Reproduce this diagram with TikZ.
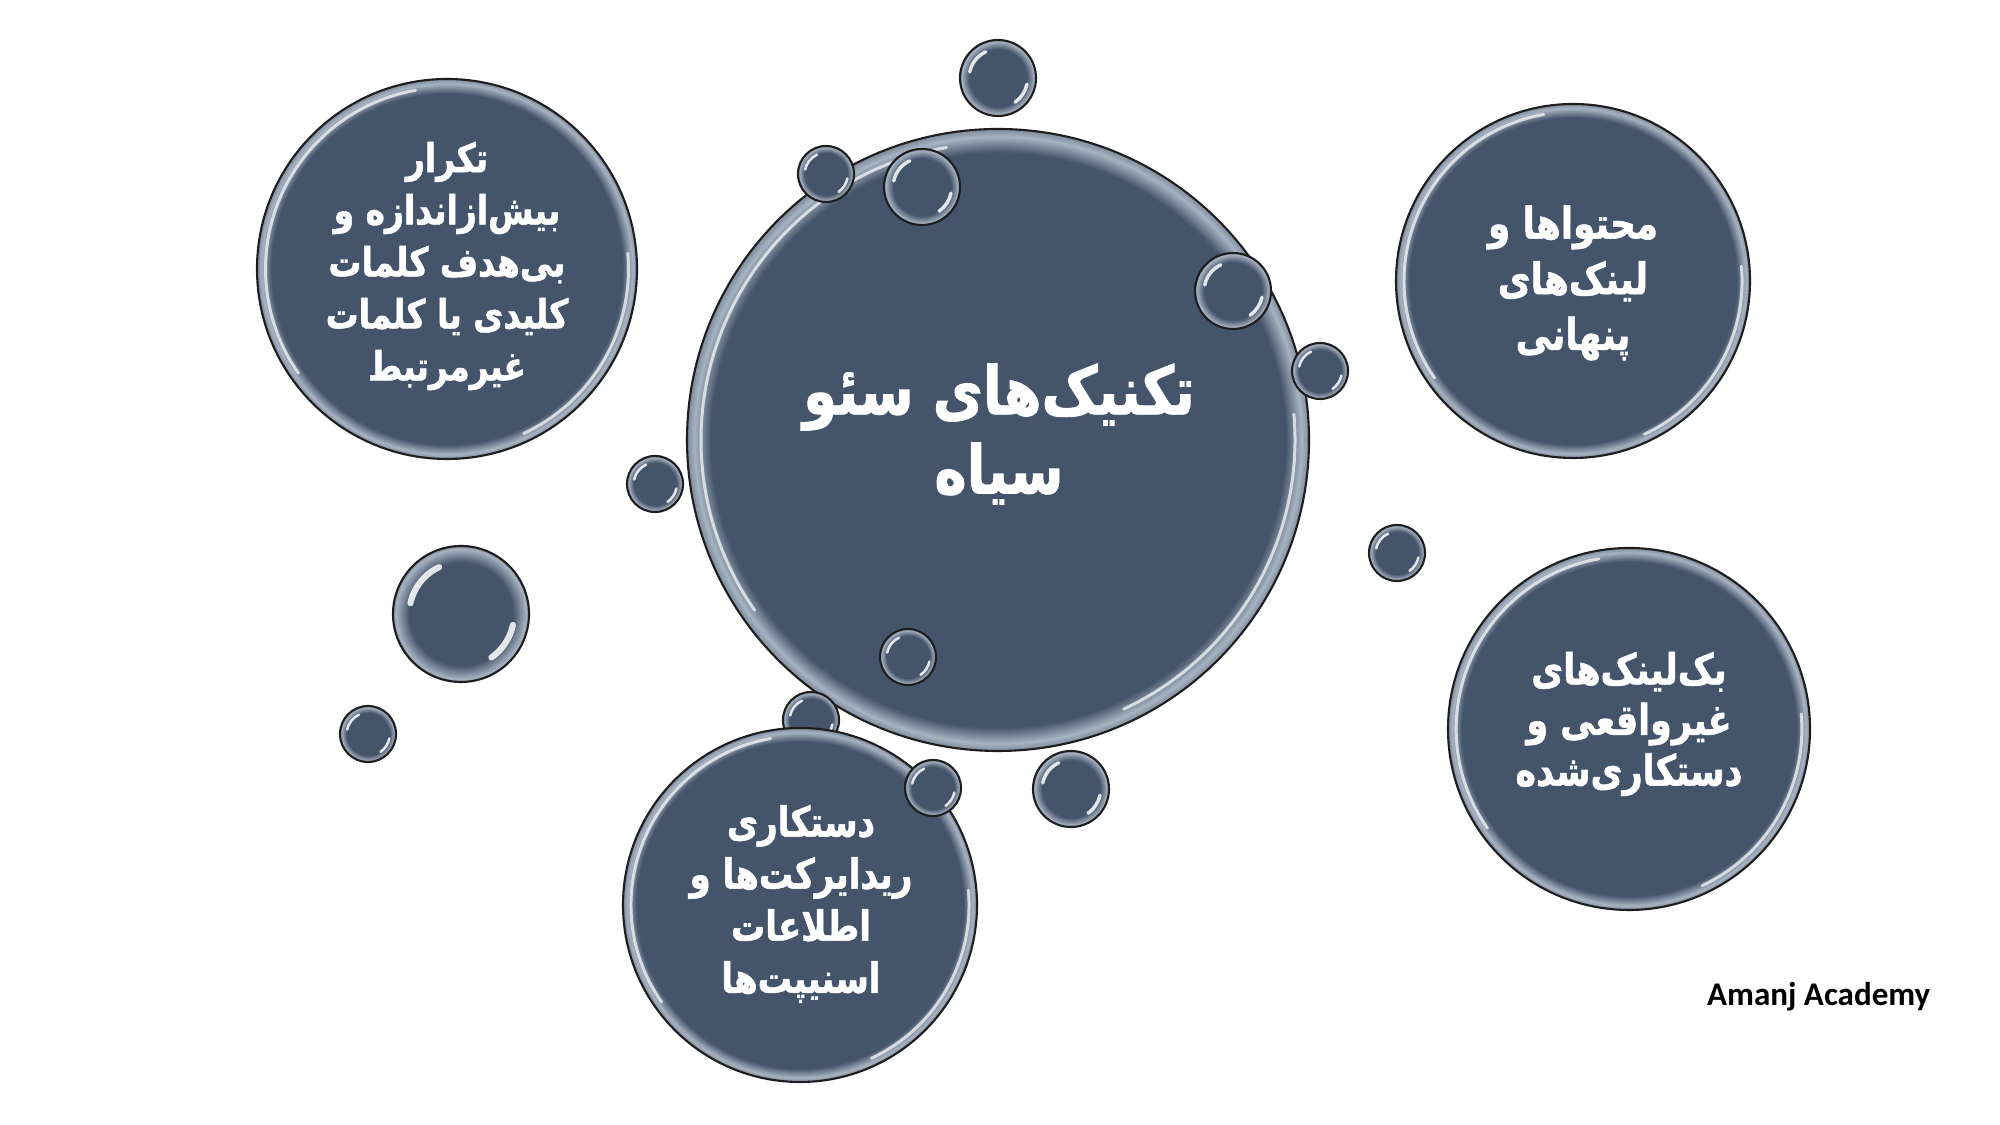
\documentclass[tikz,border=0pt]{standalone}
\usepackage{fontspec}
\TeXXeTstate=1
\newfontfamily\fa[Script=Arabic, FakeStretch=0.82, BoldFeatures={FakeBold=1.3}]{DejaVu Sans}
\newfontfamily\carl{Carlito}
\usetikzlibrary{calc}
\definecolor{bub}{HTML}{44546A}
\definecolor{rim}{HTML}{A7B3C2}
\definecolor{rimdark}{HTML}{7D8A9C}
\definecolor{edge}{HTML}{1E1E1E}
\pgfdeclareradialshading{bigshade}{\pgfpoint{0bp}{0bp}}{color(0bp)=(bub); color(23.1bp)=(bub); color(24.4bp)=(rim); color(25bp)=(rimdark); color(50bp)=(rimdark)}
\pgfdeclareradialshading{smallshade}{\pgfpoint{0bp}{0bp}}{color(0bp)=(bub); color(19bp)=(bub); color(24bp)=(rim); color(25bp)=(rimdark); color(50bp)=(rimdark)}
\tikzset{
  bigbubble/.style={circle, inner sep=0pt, draw=edge, line width=0.6pt, shade, shading=bigshade},
  smallbubble/.style={circle, inner sep=0pt, draw=edge, line width=0.6pt, shade, shading=smallshade},
  hlbig/.style={white, opacity=0.7, line width=0.85pt, line cap=round},
  hlsmall/.style={white, opacity=0.85, line cap=round},
  bubtext/.style={text=white, align=center, inner sep=0pt},
  brand/.style={anchor=east, inner sep=0pt, font=\carl\bfseries\fontsize{9.4}{11}\selectfont}
}
% big bubble: name, x, y, r
\newcommand\bigbub[4]{%
  \node[bigbubble, minimum size={2*#4*0.01cm}] (#1) at (#2,#3) {};
  \draw[hlbig] (#1.center) ++(100:{0.955*#4}) arc[start angle=100, end angle=215, radius={0.955*#4*0.01cm}];
  \draw[hlbig] (#1.center) ++(-65:{0.955*#4}) arc[start angle=-65, end angle=5, radius={0.955*#4*0.01cm}];
}
% small bubble: name, x, y, r
\newcommand\smallbub[4]{%
  \node[smallbubble, minimum size={2*#4*0.01cm}] (#1) at (#2,#3) {};
  \draw[hlsmall, line width={0.09*#4*0.01cm}] (#1.center) ++(115:{0.76*#4}) arc[start angle=115, end angle=168, radius={0.76*#4*0.01cm}];
  \draw[hlsmall, line width={0.09*#4*0.01cm}] (#1.center) ++(-12:{0.78*#4}) arc[start angle=-12, end angle=-55, radius={0.78*#4*0.01cm}];
}
\begin{document}
\begin{tikzpicture}[x=0.01cm, y=0.01cm]
\fill[white] (0,0) rectangle (2000,1125);
\useasboundingbox (0,0) rectangle (2000,1125);

\bigbub{main}{998}{685}{311}
\bigbub{tl}{447}{856}{190}
\bigbub{tr}{1573}{844}{177}
\bigbub{br}{1629}{396}{181}
\smallbub{lm}{461}{511}{68}

\smallbub{b1}{998}{1047}{38}
\smallbub{b2}{826}{951}{28}
\smallbub{b3}{922}{938}{38}
\smallbub{b4}{1233}{834}{38}
\smallbub{b5}{1320}{754}{28}
\smallbub{b6}{655}{641}{28}
\smallbub{b7}{1397}{572}{28}
\smallbub{b8}{908}{468}{28}
\smallbub{b9}{811}{405}{28}
\smallbub{b11}{1071}{336}{38}
\smallbub{b12}{368}{391}{28}

\bigbub{bot}{800}{220}{177}
\smallbub{b10}{933}{337}{28}

\node[bubtext, font=\fa\bfseries\fontsize{19}{22.5}\selectfont] (maintext) at (999,691)
  {\beginR تکنیک‌های سئو\endR\\ \beginR سیاه\endR};
\node[bubtext, font=\fa\bfseries\fontsize{11.4}{14.8}\selectfont] (tltext) at (447,859)
  {\beginR تکرار\endR\\ \beginR بیش‌ازاندازه و\endR\\ \beginR بی‌هدف کلمات\endR\\ \beginR کلیدی یا کلمات\endR\\ \beginR غیرمرتبط\endR};
\node[bubtext, font=\fa\bfseries\fontsize{12.4}{15.8}\selectfont] (trtext) at (1573,842)
  {\beginR محتواها و\endR\\ \beginR لینک‌های\endR\\ \beginR پنهانی\endR};
\node[bubtext, font=\fa\bfseries\fontsize{12.1}{14.4}\selectfont] (brtext) at (1629,401)
  {\beginR بک‌لینک‌های\endR\\ \beginR غیرواقعی و\endR\\ \beginR دستکاری‌شده\endR};
\node[bubtext, font=\fa\bfseries\fontsize{11.8}{14.8}\selectfont] (bottext) at (801,221)
  {\beginR دستکاری\endR\\ \beginR ریدایرکت‌ها و\endR\\ \beginR اطلاعات\endR\\ \beginR اسنیپت‌ها\endR};

\node[brand] (brandtext) at (1931,128) {Amanj Academy};
\end{tikzpicture}
\end{document}
